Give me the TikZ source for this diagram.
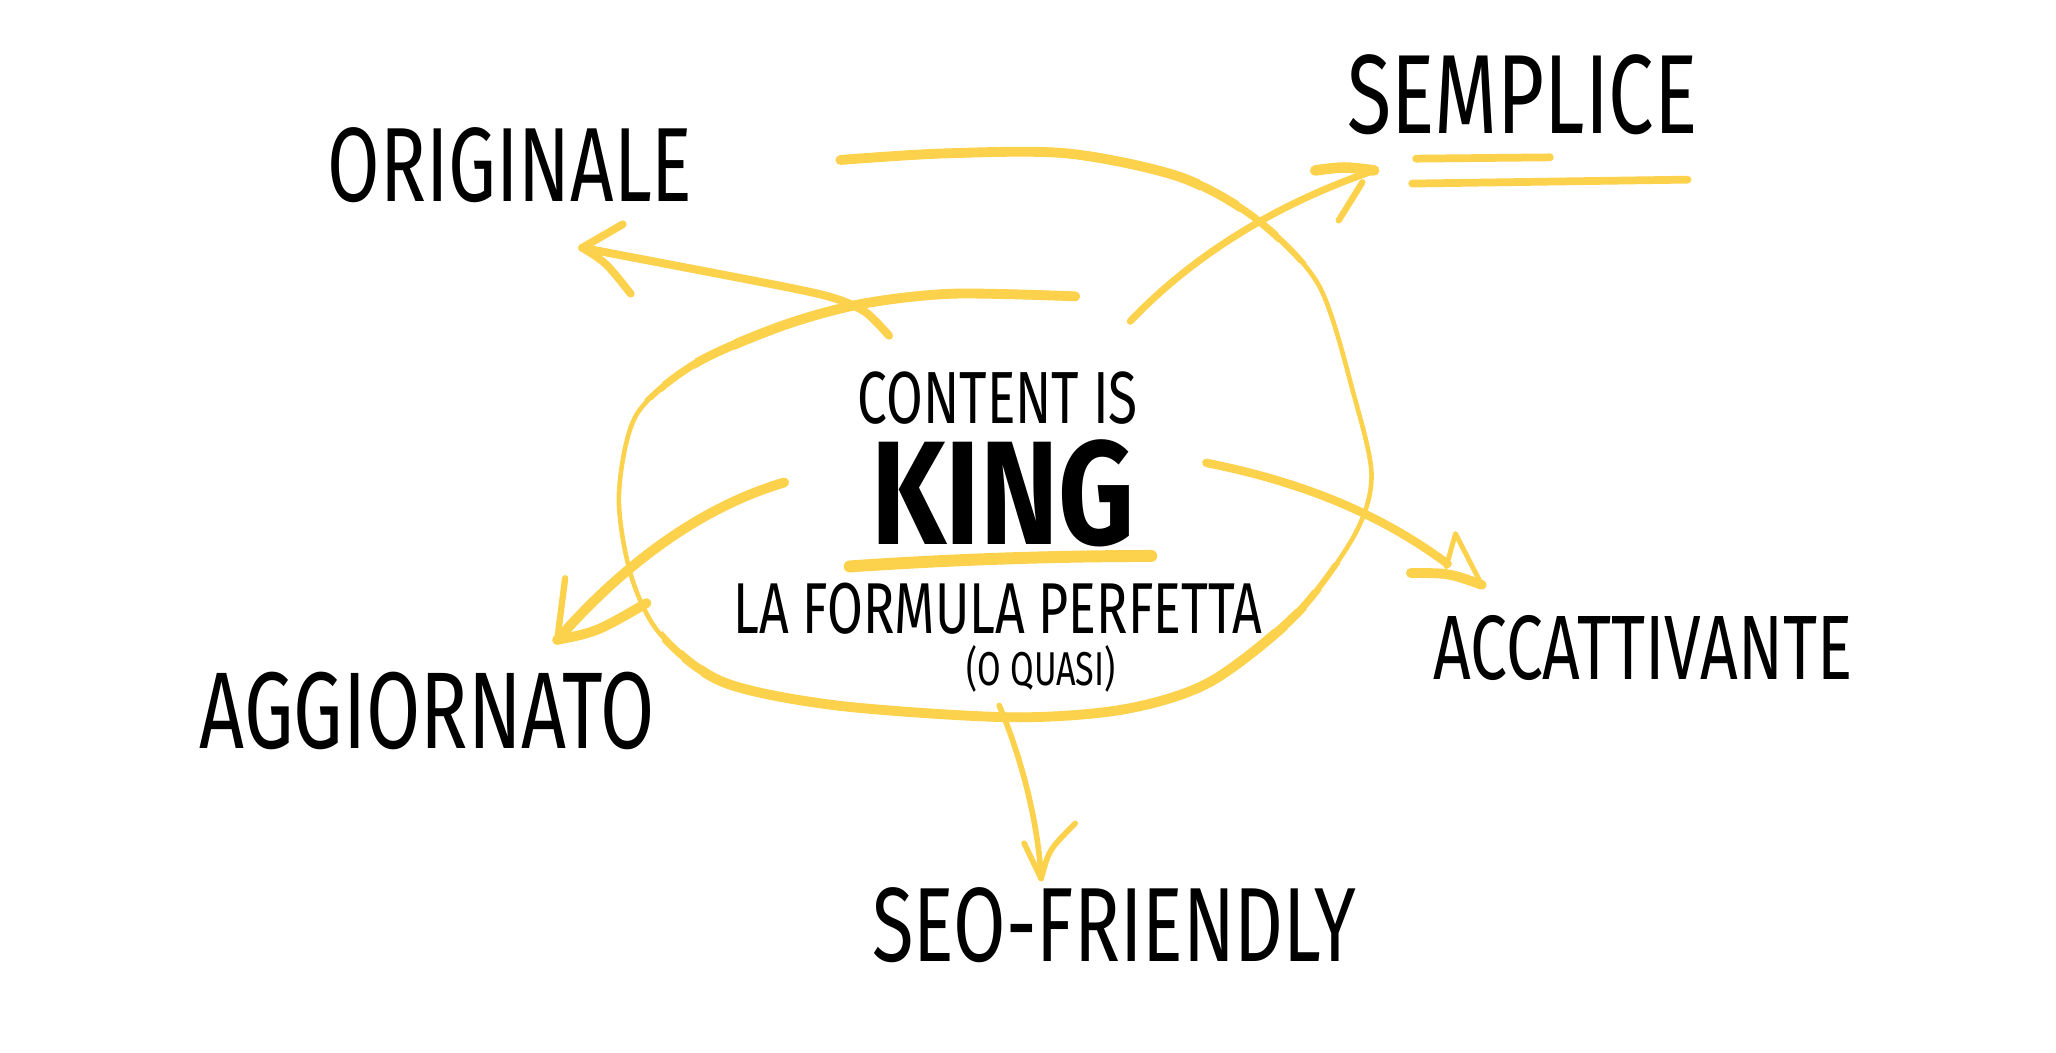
\documentclass[tikz,border=0pt]{standalone}
\usepackage{fontspec}
\newfontfamily\brush{Fira Sans}[FakeStretch=0.72]
\newfontfamily\brushking{Fira Sans}[FakeStretch=0.8]
\definecolor{marker}{HTML}{FCD14B}

% the loop round the centre
\def\kingloop{plot[smooth] coordinates {
    (641,122) (720,117) (814,117) (900,135) (958,167) (1006,218) (1033,303)
    (1046,363) (1033,408) (989,468) (923,520) (857,541) (770,547) (638,538)
    (551,520) (503,483) (481,438) (472,378) (485,317) (529,278) (595,249)
    (656,232) (726,224) (820,226)}}

\begin{document}
\begin{tikzpicture}[x=0.013112cm,y=-0.013112cm,
  hand/.style={draw=marker,line cap=round,line join=round},
  word/.style={font=\brush\fontsize{#1}{#1}\selectfont,anchor=base,inner sep=0pt,
    text height=0.7em,text depth=0pt}]
  \useasboundingbox (0,0) rectangle (1568,803);

  % centre block
  \node[word=21] (content) at (761,323) {CONTENT IS};
  \node[word=42,font=\brushking\bfseries\fontsize{42}{42}\selectfont] (king) at (765,415) {KING};
  \node[word=20.5] (formula) at (761,483) {LA FORMULA PERFETTA};
  \node[word=13.5] (quasi) at (794,523) {(O QUASI)};
  \draw[hand,line width=3.4pt] (648,432) .. controls (720,427) and (800,424) .. (878,424);

  % the five words round it
  \node[word=30] (originale) at (389,154) {ORIGINALE};
  \node[word=32] (semplice) at (1161,102) {SEMPLICE};
  \node[word=26] (accattivante) at (1253,518) {ACCATTIVANTE};
  \node[word=30] (seo) at (850,733) {SEO-FRIENDLY};
  \node[word=31] (aggiornato) at (326,571) {AGGIORNATO};
  \draw[hand,line width=2.2pt] (1080,121) -- (1182,120);
  \draw[hand,line width=2.2pt] (1077,140) -- (1287,137);

  % loop: thin all round, thicker on top and bottom
  \draw[hand,line width=1.3pt] \kingloop;
  \foreach \w/\xa/\ya/\xb/\yb in {
    1.7/600/90/1000/200, 2.1/600/90/975/200, 2.5/600/90/945/200, 2.8/600/90/915/200,
    1.7/505/430/1060/620, 2.1/505/450/1060/620, 2.5/520/465/1060/620, 2.8/535/480/1020/620,
    1.7/490/200/830/305, 2.1/505/200/830/300, 2.5/530/200/830/300, 2.8/560/200/830/300} {
    \begin{scope}
      \clip (\xa,\ya) rectangle (\xb,\yb);
      \draw[hand,line width=\w pt] \kingloop;
    \end{scope}
  }

  % arrows
  \coordinate (o-start) at (678,256);
  \coordinate (o-tip) at (444,189);
  \draw[hand,line width=2.3pt] plot[smooth] coordinates {
    (o-start) (660,238) (635,227) (590,217) (o-tip)};
  \draw[hand,line width=2.2pt] (o-tip) -- (475,171);
  \draw[hand,line width=2.2pt] (o-tip) .. controls (462,200) .. (481,224);

  \coordinate (s-start) at (862,245);
  \coordinate (s-tip) at (1048,130);
  \draw[hand,line width=2pt] (s-start) .. controls (900,205) and (960,160) .. (s-tip);
  \draw[hand,line width=3pt] (s-tip) .. controls (1025,127) .. (1003,130);
  \draw[hand,line width=1.8pt] (1039,139) -- (1021,168);

  \coordinate (a-start) at (920,353);
  \coordinate (a-tip) at (1130,446);
  \draw[hand,line width=2.4pt] (a-start) .. controls (990,367) and (1050,390) .. (1104,430);
  \draw[hand,line width=1.4pt] (1103,432) -- (1110,407) -- (a-tip);
  \draw[hand,line width=2.8pt] (a-tip) .. controls (1105,437) .. (1076,437);

  \coordinate (g-start) at (598,368);
  \coordinate (g-tip) at (425,488);
  \draw[hand,line width=2.8pt] (g-start) .. controls (540,385) and (480,425) .. (g-tip);
  \draw[hand,line width=1.8pt] (g-tip) -- (431,441);
  \draw[hand,line width=2.8pt] (g-tip) .. controls (455,482) .. (493,460);

  \coordinate (f-start) at (762,538);
  \coordinate (f-tip) at (794,670);
  \draw[hand,line width=1.6pt] (f-start) .. controls (780,580) and (792,630) .. (f-tip);
  \draw[hand,line width=1.6pt] (781,643) -- (f-tip);
  \draw[hand,line width=1.6pt] (f-tip) .. controls (800,648) .. (820,628);
\end{tikzpicture}
\end{document}
